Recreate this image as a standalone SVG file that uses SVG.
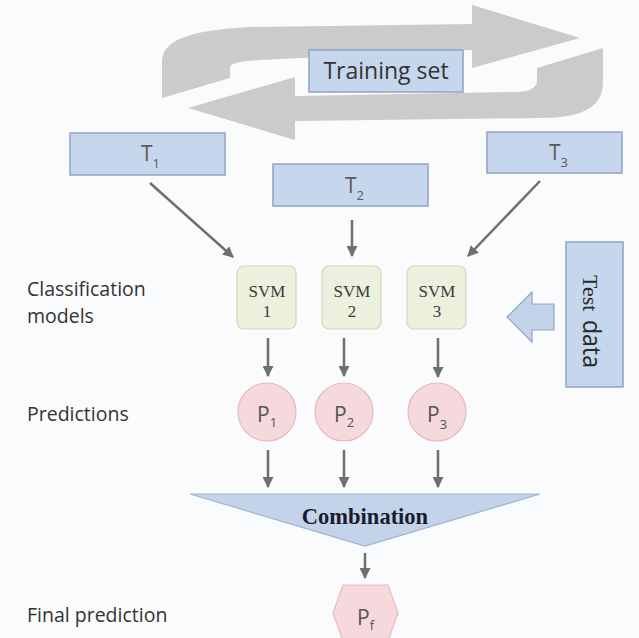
<svg xmlns="http://www.w3.org/2000/svg" width="639" height="638" viewBox="0 0 639 638">
<style>
.lbl{font-family:"Open Sans","Liberation Sans",sans-serif;font-size:19.5px;fill:#333}
.tbox{fill:#c6d6ec;stroke:#8fa4c2;stroke-width:1.5}
.ttxt{font-family:"Open Sans","Liberation Sans",sans-serif;font-size:21px;fill:#5a5a5a}
.sub{font-size:13px}
.svm{fill:#eef0de;stroke:#d2d6bc;stroke-width:1.2}
.svmt{font-family:"Liberation Serif","Times New Roman",serif;font-size:17px;fill:#3a3a3a;text-anchor:middle}
.pc{fill:#f6d9dc;stroke:#e6babf;stroke-width:1.2}
.ptxt{font-family:"Open Sans","Liberation Sans",sans-serif;font-size:21px;fill:#555}
.grey{fill:#cbcbcb}
.conn line{stroke:#6f6f6f;stroke-width:2.5}
</style>
<defs>
<marker id="ah" viewBox="0 0 10 10" refX="9" refY="5" markerWidth="11" markerHeight="11" markerUnits="userSpaceOnUse" orient="auto">
<path d="M0,0 L10,5 L0,10 z" fill="#6f6f6f"/>
</marker>
</defs>
<rect x="0" y="0" width="639" height="638" fill="#fafbfd"/>

<g id="cycle-arrows">
<path class="grey" d="M162,98 L162,62 C162,40 190,30 250,27 L472,24 L472,5 L580,38 L472,68 L472,50 L260,60 C240,61 230,63 230,68 L230,78 Z"/>
<path class="grey" d="M603,48 L603,82 C603,106 585,118 540,118 L295,121 L295,140 L188,108 L295,77 L295,96 L515,92 C530,92 537,88 537,80 L537,68 Z"/>
</g>

<g id="training-set">
<rect class="tbox" x="309" y="50" width="154" height="42"/>
<text x="386" y="79" text-anchor="middle" font-family="Open Sans, Liberation Sans, sans-serif" font-size="23" fill="#333">Training set</text>
</g>

<g id="T1">
<rect class="tbox" x="70" y="133" width="155" height="42"/>
<text class="ttxt" x="141" y="161">T<tspan class="sub" dy="7">1</tspan></text>
</g>
<g id="T2">
<rect class="tbox" x="273" y="164" width="155" height="42"/>
<text class="ttxt" x="345" y="193">T<tspan class="sub" dy="7">2</tspan></text>
</g>
<g id="T3">
<rect class="tbox" x="487" y="132" width="135" height="41"/>
<text class="ttxt" x="549" y="160">T<tspan class="sub" dy="7">3</tspan></text>
</g>

<g id="labels">
<text class="lbl" x="27" y="296">Classification</text>
<text class="lbl" x="27" y="323">models</text>
<text class="lbl" x="27" y="421">Predictions</text>
<text class="lbl" x="27" y="622">Final prediction</text>
</g>

<g id="SVM1">
<rect class="svm" x="237" y="266" width="59" height="63" rx="7"/>
<text class="svmt" x="267" y="297">SVM</text>
<text class="svmt" x="267" y="317">1</text>
</g>
<g id="SVM2">
<rect class="svm" x="322" y="266" width="59" height="63" rx="7"/>
<text class="svmt" x="352" y="297">SVM</text>
<text class="svmt" x="352" y="317">2</text>
</g>
<g id="SVM3">
<rect class="svm" x="407" y="266" width="59" height="63" rx="7"/>
<text class="svmt" x="437" y="297">SVM</text>
<text class="svmt" x="437" y="317">3</text>
</g>

<g id="test-data">
<rect class="tbox" x="566" y="242" width="57" height="145"/>
<path d="M507,317 L532,292 L532,304 L554,304 L554,330 L532,330 L532,342 Z" fill="#c3d3ea" stroke="#8fa4c2" stroke-width="1.2"/>
<g transform="translate(583,321) rotate(90)">
<text x="-46" y="0" font-family="Liberation Serif, Times New Roman, serif" font-size="22" fill="#2a2a2a">Test</text>
<text x="-1" y="0" font-family="Open Sans, Liberation Sans, sans-serif" font-size="26" textLength="48" lengthAdjust="spacingAndGlyphs" fill="#2a2a2a">data</text>
</g>
</g>

<g id="P1">
<circle class="pc" cx="267" cy="412" r="29"/>
<text class="ptxt" x="257" y="422">P<tspan class="sub" dy="5">1</tspan></text>
</g>
<g id="P2">
<circle class="pc" cx="344" cy="412" r="29"/>
<text class="ptxt" x="334" y="422">P<tspan class="sub" dy="5">2</tspan></text>
</g>
<g id="P3">
<circle class="pc" cx="437" cy="412" r="29"/>
<text class="ptxt" x="427" y="422">P<tspan class="sub" dy="7">3</tspan></text>
</g>

<g id="combination">
<path d="M190,494 L540,494 L365,546 Z" fill="#c3d3ea" stroke="#9fb3d0" stroke-width="1.2"/>
<text x="365" y="524" text-anchor="middle" font-family="Liberation Serif, Times New Roman, serif" font-weight="bold" font-size="22.5" fill="#1a1c2e">Combination</text>
</g>

<g id="Pf">
<path d="M343,585 L388,585 L398,613 L388,641 L343,641 L333,613 Z" fill="#f6d9dc" stroke="#e6babf" stroke-width="1.2"/>
<text class="ptxt" x="357" y="625">P<tspan class="sub" dy="5">f</tspan></text>
</g>

<g id="connectors" class="conn">
<line x1="150" y1="183" x2="233" y2="257" marker-end="url(#ah)"/>
<line x1="352" y1="220" x2="352" y2="256" marker-end="url(#ah)"/>
<line x1="540" y1="181" x2="468" y2="256" marker-end="url(#ah)"/>
<line x1="268" y1="338" x2="268" y2="376" marker-end="url(#ah)"/>
<line x1="344" y1="338" x2="344" y2="376" marker-end="url(#ah)"/>
<line x1="438" y1="338" x2="438" y2="377" marker-end="url(#ah)"/>
<line x1="268" y1="450" x2="268" y2="487" marker-end="url(#ah)"/>
<line x1="344" y1="450" x2="344" y2="487" marker-end="url(#ah)"/>
<line x1="438" y1="450" x2="438" y2="487" marker-end="url(#ah)"/>
<line x1="365" y1="553" x2="365" y2="578" marker-end="url(#ah)"/>
</g>
</svg>
